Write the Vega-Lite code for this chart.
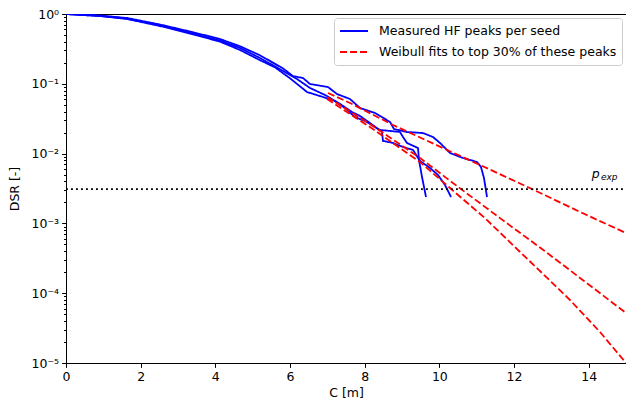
{
  "$schema": "https://vega.github.io/schema/vega-lite/v6.json",
  "width": 560,
  "height": 349,
  "autosize": {"type": "none"},
  "padding": {"left": 66, "top": 14, "right": 0, "bottom": 41},
  "background": "white",
  "config": {
    "font": "DejaVu Sans",
    "view": {"stroke": "black", "strokeWidth": 1},
    "axis": {
      "grid": false,
      "domainColor": "black",
      "tickColor": "black",
      "labelColor": "black",
      "titleColor": "black",
      "labelFont": "DejaVu Sans",
      "titleFont": "DejaVu Sans",
      "labelFontSize": 12.5,
      "titleFontSize": 12.5,
      "titleFontWeight": "normal"
    },
    "legend": {
      "labelFont": "DejaVu Sans",
      "labelFontSize": 12.5,
      "labelColor": "black",
      "labelLimit": 0
    }
  },
  "datasets": {
    "measured": [
      {"kind": "Measured HF peaks per seed", "seed": "A", "C": 0, "DSR": 1},
      {"kind": "Measured HF peaks per seed", "seed": "A", "C": 0.91, "DSR": 0.952},
      {"kind": "Measured HF peaks per seed", "seed": "A", "C": 1.634, "DSR": 0.876},
      {"kind": "Measured HF peaks per seed", "seed": "A", "C": 2.518, "DSR": 0.707},
      {"kind": "Measured HF peaks per seed", "seed": "A", "C": 3.402, "DSR": 0.548},
      {"kind": "Measured HF peaks per seed", "seed": "A", "C": 4.125, "DSR": 0.438},
      {"kind": "Measured HF peaks per seed", "seed": "A", "C": 4.661, "DSR": 0.345},
      {"kind": "Measured HF peaks per seed", "seed": "A", "C": 5.196, "DSR": 0.256},
      {"kind": "Measured HF peaks per seed", "seed": "A", "C": 5.813, "DSR": 0.166},
      {"kind": "Measured HF peaks per seed", "seed": "A", "C": 6.08, "DSR": 0.129},
      {"kind": "Measured HF peaks per seed", "seed": "A", "C": 6.348, "DSR": 0.121},
      {"kind": "Measured HF peaks per seed", "seed": "A", "C": 6.536, "DSR": 0.0993},
      {"kind": "Measured HF peaks per seed", "seed": "A", "C": 7.018, "DSR": 0.0899},
      {"kind": "Measured HF peaks per seed", "seed": "A", "C": 7.259, "DSR": 0.0714},
      {"kind": "Measured HF peaks per seed", "seed": "A", "C": 7.607, "DSR": 0.0605},
      {"kind": "Measured HF peaks per seed", "seed": "A", "C": 7.875, "DSR": 0.045},
      {"kind": "Measured HF peaks per seed", "seed": "A", "C": 8.277, "DSR": 0.0382},
      {"kind": "Measured HF peaks per seed", "seed": "A", "C": 8.679, "DSR": 0.0284},
      {"kind": "Measured HF peaks per seed", "seed": "A", "C": 8.786, "DSR": 0.0225},
      {"kind": "Measured HF peaks per seed", "seed": "A", "C": 9.134, "DSR": 0.0204},
      {"kind": "Measured HF peaks per seed", "seed": "A", "C": 9.563, "DSR": 0.0197},
      {"kind": "Measured HF peaks per seed", "seed": "A", "C": 9.83, "DSR": 0.0173},
      {"kind": "Measured HF peaks per seed", "seed": "A", "C": 10.018, "DSR": 0.0142},
      {"kind": "Measured HF peaks per seed", "seed": "A", "C": 10.286, "DSR": 0.0102},
      {"kind": "Measured HF peaks per seed", "seed": "A", "C": 10.634, "DSR": 0.00865},
      {"kind": "Measured HF peaks per seed", "seed": "A", "C": 11.009, "DSR": 0.00759},
      {"kind": "Measured HF peaks per seed", "seed": "A", "C": 11.116, "DSR": 0.00643},
      {"kind": "Measured HF peaks per seed", "seed": "A", "C": 11.196, "DSR": 0.00447},
      {"kind": "Measured HF peaks per seed", "seed": "A", "C": 11.277, "DSR": 0.00239},
      {"kind": "Measured HF peaks per seed", "seed": "B", "C": 0, "DSR": 1},
      {"kind": "Measured HF peaks per seed", "seed": "B", "C": 0.91, "DSR": 0.936},
      {"kind": "Measured HF peaks per seed", "seed": "B", "C": 1.634, "DSR": 0.862},
      {"kind": "Measured HF peaks per seed", "seed": "B", "C": 2.518, "DSR": 0.684},
      {"kind": "Measured HF peaks per seed", "seed": "B", "C": 3.402, "DSR": 0.526},
      {"kind": "Measured HF peaks per seed", "seed": "B", "C": 4.125, "DSR": 0.417},
      {"kind": "Measured HF peaks per seed", "seed": "B", "C": 4.661, "DSR": 0.326},
      {"kind": "Measured HF peaks per seed", "seed": "B", "C": 5.196, "DSR": 0.234},
      {"kind": "Measured HF peaks per seed", "seed": "B", "C": 5.813, "DSR": 0.153},
      {"kind": "Measured HF peaks per seed", "seed": "B", "C": 6.188, "DSR": 0.117},
      {"kind": "Measured HF peaks per seed", "seed": "B", "C": 6.536, "DSR": 0.0871},
      {"kind": "Measured HF peaks per seed", "seed": "B", "C": 6.938, "DSR": 0.0691},
      {"kind": "Measured HF peaks per seed", "seed": "B", "C": 7.34, "DSR": 0.0514},
      {"kind": "Measured HF peaks per seed", "seed": "B", "C": 7.661, "DSR": 0.0394},
      {"kind": "Measured HF peaks per seed", "seed": "B", "C": 7.875, "DSR": 0.0346},
      {"kind": "Measured HF peaks per seed", "seed": "B", "C": 8.143, "DSR": 0.0274},
      {"kind": "Measured HF peaks per seed", "seed": "B", "C": 8.464, "DSR": 0.0204},
      {"kind": "Measured HF peaks per seed", "seed": "B", "C": 8.491, "DSR": 0.0152},
      {"kind": "Measured HF peaks per seed", "seed": "B", "C": 8.759, "DSR": 0.0142},
      {"kind": "Measured HF peaks per seed", "seed": "B", "C": 9.027, "DSR": 0.01244},
      {"kind": "Measured HF peaks per seed", "seed": "B", "C": 9.295, "DSR": 0.01127},
      {"kind": "Measured HF peaks per seed", "seed": "B", "C": 9.482, "DSR": 0.00784},
      {"kind": "Measured HF peaks per seed", "seed": "B", "C": 9.75, "DSR": 0.00622},
      {"kind": "Measured HF peaks per seed", "seed": "B", "C": 9.964, "DSR": 0.00494},
      {"kind": "Measured HF peaks per seed", "seed": "B", "C": 10.152, "DSR": 0.00355},
      {"kind": "Measured HF peaks per seed", "seed": "B", "C": 10.313, "DSR": 0.00239},
      {"kind": "Measured HF peaks per seed", "seed": "C", "C": 0, "DSR": 1},
      {"kind": "Measured HF peaks per seed", "seed": "C", "C": 0.91, "DSR": 0.936},
      {"kind": "Measured HF peaks per seed", "seed": "C", "C": 1.634, "DSR": 0.848},
      {"kind": "Measured HF peaks per seed", "seed": "C", "C": 2.518, "DSR": 0.673},
      {"kind": "Measured HF peaks per seed", "seed": "C", "C": 3.402, "DSR": 0.512},
      {"kind": "Measured HF peaks per seed", "seed": "C", "C": 4.125, "DSR": 0.402},
      {"kind": "Measured HF peaks per seed", "seed": "C", "C": 4.661, "DSR": 0.305},
      {"kind": "Measured HF peaks per seed", "seed": "C", "C": 5.196, "DSR": 0.218},
      {"kind": "Measured HF peaks per seed", "seed": "C", "C": 5.598, "DSR": 0.172},
      {"kind": "Measured HF peaks per seed", "seed": "C", "C": 6.0, "DSR": 0.12},
      {"kind": "Measured HF peaks per seed", "seed": "C", "C": 6.455, "DSR": 0.0763},
      {"kind": "Measured HF peaks per seed", "seed": "C", "C": 6.884, "DSR": 0.0647},
      {"kind": "Measured HF peaks per seed", "seed": "C", "C": 7.206, "DSR": 0.0567},
      {"kind": "Measured HF peaks per seed", "seed": "C", "C": 7.473, "DSR": 0.045},
      {"kind": "Measured HF peaks per seed", "seed": "C", "C": 7.741, "DSR": 0.0334},
      {"kind": "Measured HF peaks per seed", "seed": "C", "C": 8.009, "DSR": 0.0293},
      {"kind": "Measured HF peaks per seed", "seed": "C", "C": 8.143, "DSR": 0.0266},
      {"kind": "Measured HF peaks per seed", "seed": "C", "C": 8.411, "DSR": 0.0218},
      {"kind": "Measured HF peaks per seed", "seed": "C", "C": 8.679, "DSR": 0.0211},
      {"kind": "Measured HF peaks per seed", "seed": "C", "C": 8.946, "DSR": 0.0204},
      {"kind": "Measured HF peaks per seed", "seed": "C", "C": 9.027, "DSR": 0.0173},
      {"kind": "Measured HF peaks per seed", "seed": "C", "C": 9.134, "DSR": 0.0142},
      {"kind": "Measured HF peaks per seed", "seed": "C", "C": 9.429, "DSR": 0.012},
      {"kind": "Measured HF peaks per seed", "seed": "C", "C": 9.455, "DSR": 0.0081},
      {"kind": "Measured HF peaks per seed", "seed": "C", "C": 9.536, "DSR": 0.00462},
      {"kind": "Measured HF peaks per seed", "seed": "C", "C": 9.643, "DSR": 0.00239}
    ],
    "fits": [
      {"kind": "Weibull fits to top 30% of these peaks", "seed": "A", "C": 7.018, "DSR": 0.0738},
      {"kind": "Weibull fits to top 30% of these peaks", "seed": "A", "C": 7.607, "DSR": 0.0531},
      {"kind": "Weibull fits to top 30% of these peaks", "seed": "A", "C": 8.759, "DSR": 0.0257},
      {"kind": "Weibull fits to top 30% of these peaks", "seed": "A", "C": 10.098, "DSR": 0.012},
      {"kind": "Weibull fits to top 30% of these peaks", "seed": "A", "C": 11.089, "DSR": 0.00687},
      {"kind": "Weibull fits to top 30% of these peaks", "seed": "A", "C": 12.482, "DSR": 0.00311},
      {"kind": "Weibull fits to top 30% of these peaks", "seed": "A", "C": 13.768, "DSR": 0.00146},
      {"kind": "Weibull fits to top 30% of these peaks", "seed": "A", "C": 15.0, "DSR": 0.000728},
      {"kind": "Weibull fits to top 30% of these peaks", "seed": "B", "C": 6.991, "DSR": 0.0647},
      {"kind": "Weibull fits to top 30% of these peaks", "seed": "B", "C": 8.143, "DSR": 0.0266},
      {"kind": "Weibull fits to top 30% of these peaks", "seed": "B", "C": 9.482, "DSR": 0.00865},
      {"kind": "Weibull fits to top 30% of these peaks", "seed": "B", "C": 10.473, "DSR": 0.00343},
      {"kind": "Weibull fits to top 30% of these peaks", "seed": "B", "C": 11.625, "DSR": 0.00119},
      {"kind": "Weibull fits to top 30% of these peaks", "seed": "B", "C": 12.75, "DSR": 0.00043},
      {"kind": "Weibull fits to top 30% of these peaks", "seed": "B", "C": 13.875, "DSR": 0.00015},
      {"kind": "Weibull fits to top 30% of these peaks", "seed": "B", "C": 15.0, "DSR": 0.000052},
      {"kind": "Weibull fits to top 30% of these peaks", "seed": "C", "C": 6.991, "DSR": 0.0605},
      {"kind": "Weibull fits to top 30% of these peaks", "seed": "C", "C": 8.143, "DSR": 0.024},
      {"kind": "Weibull fits to top 30% of these peaks", "seed": "C", "C": 9.482, "DSR": 0.00758},
      {"kind": "Weibull fits to top 30% of these peaks", "seed": "C", "C": 10.286, "DSR": 0.00321},
      {"kind": "Weibull fits to top 30% of these peaks", "seed": "C", "C": 11.223, "DSR": 0.00119},
      {"kind": "Weibull fits to top 30% of these peaks", "seed": "C", "C": 12.107, "DSR": 0.000416},
      {"kind": "Weibull fits to top 30% of these peaks", "seed": "C", "C": 12.696, "DSR": 0.000208},
      {"kind": "Weibull fits to top 30% of these peaks", "seed": "C", "C": 13.5, "DSR": 0.0000799},
      {"kind": "Weibull fits to top 30% of these peaks", "seed": "C", "C": 14.304, "DSR": 0.0000278},
      {"kind": "Weibull fits to top 30% of these peaks", "seed": "C", "C": 15.0, "DSR": 0.00001}
    ],
    "pexp": [
      {"C0": 0, "C1": 15, "DSR": 0.0031}
    ],
    "annot": [
      {"C": 14.08, "DSR": 0.00447, "label": "p", "size": "big"},
      {"C": 14.33, "DSR": 0.00419, "label": "exp", "size": "small"}
    ]
  },
  "encoding": {
    "y": {
      "field": "DSR",
      "type": "quantitative",
      "scale": {"type": "log", "domain": [0.00001, 1], "nice": false},
      "axis": {
        "title": "DSR [-]",
        "values": [0.00001, 0.00002, 0.00003, 0.00004, 0.00005, 0.00006, 0.00007, 0.00008, 0.00009,
                   0.0001, 0.0002, 0.0003, 0.0004, 0.0005, 0.0006, 0.0007, 0.0008, 0.0009,
                   0.001, 0.002, 0.003, 0.004, 0.005, 0.006, 0.007, 0.008, 0.009,
                   0.01, 0.02, 0.03, 0.04, 0.05, 0.06, 0.07, 0.08, 0.09,
                   0.1, 0.2, 0.3, 0.4, 0.5, 0.6, 0.7, 0.8, 0.9, 1],
        "labelExpr": "datum.value == 1 ? '10⁰' : datum.value == 0.1 ? '10⁻¹' : datum.value == 0.01 ? '10⁻²' : datum.value == 0.001 ? '10⁻³' : datum.value == 0.0001 ? '10⁻⁴' : datum.value == 0.00001 ? '10⁻⁵' : ''",
        "labelOverlap": false,
        "labelBound": false,
        "labelFlush": false,
        "tickSize": {"condition": {"test": "indexof([1, 0.1, 0.01, 0.001, 0.0001, 0.00001], datum.value) >= 0", "value": 4.4}, "value": 2.5},
        "labelPadding": 3,
        "titlePadding": 10
      }
    }
  },
  "layer": [
    {
      "data": {"name": "measured"},
      "mark": {"type": "line", "clip": true, "strokeWidth": 1.8},
      "encoding": {
        "x": {
          "field": "C",
          "type": "quantitative",
          "scale": {"domain": [0, 15], "nice": false, "zero": false},
          "axis": {
            "title": "C [m]",
            "values": [0, 2, 4, 6, 8, 10, 12, 14],
            "tickSize": 4.4,
            "labelPadding": 3,
            "titlePadding": 4,
            "labelFlush": false
          }
        },
        "color": {
          "field": "kind",
          "type": "nominal",
          "scale": {"domain": ["Measured HF peaks per seed", "Weibull fits to top 30% of these peaks"], "range": ["#0000ff", "#ff0000"]},
          "legend": {
            "title": null,
            "orient": "top-right",
            "offset": 4,
            "symbolType": "stroke",
            "symbolSize": 784,
            "symbolStrokeWidth": 1.8,
            "clipHeight": 16,
            "labelOffset": 10,
            "labelLimit": 0,
            "fillColor": "white",
            "strokeColor": "#cccccc",
            "cornerRadius": 3,
            "padding": 5,
            "rowPadding": 5
          }
        },
        "strokeDash": {
          "field": "kind",
          "type": "nominal",
          "scale": {"domain": ["Measured HF peaks per seed", "Weibull fits to top 30% of these peaks"], "range": [[1, 0], [7, 3]]},
          "legend": null
        },
        "detail": {"field": "seed", "type": "nominal"}
      }
    },
    {
      "data": {"name": "fits"},
      "mark": {"type": "line", "clip": true, "strokeWidth": 1.8},
      "encoding": {
        "x": {"field": "C", "type": "quantitative"},
        "color": {"field": "kind", "type": "nominal"},
        "strokeDash": {"field": "kind", "type": "nominal"},
        "detail": {"field": "seed", "type": "nominal"}
      }
    },
    {
      "data": {"name": "pexp"},
      "mark": {"type": "rule", "color": "black", "strokeWidth": 1.9, "strokeDash": [1.9, 3.1]},
      "encoding": {
        "x": {"field": "C0", "type": "quantitative"},
        "x2": {"field": "C1"}
      }
    },
    {
      "data": {"name": "annot"},
      "transform": [{"filter": "datum.size == 'big'"}],
      "mark": {"type": "text", "align": "left", "baseline": "alphabetic", "fontStyle": "italic", "fontSize": 12.5, "color": "black"},
      "encoding": {"x": {"field": "C", "type": "quantitative"}, "text": {"field": "label"}}
    },
    {
      "data": {"name": "annot"},
      "transform": [{"filter": "datum.size == 'small'"}],
      "mark": {"type": "text", "align": "left", "baseline": "alphabetic", "fontStyle": "italic", "fontSize": 9, "color": "black"},
      "encoding": {"x": {"field": "C", "type": "quantitative"}, "text": {"field": "label"}}
    }
  ]
}
